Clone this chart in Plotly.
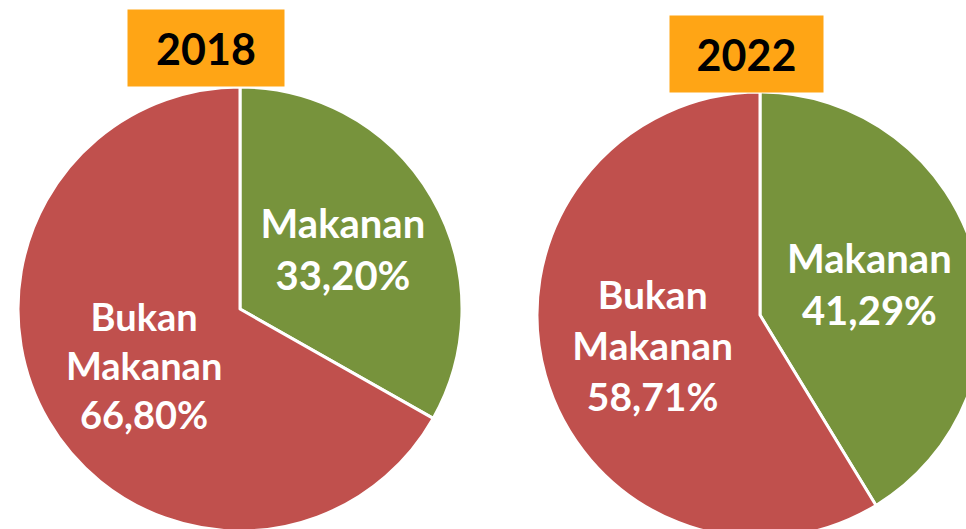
import plotly.graph_objects as go

categories = ["Makanan", "Bukan<br>Makanan"]
values_2018 = [33.20, 66.80]
values_2022 = [41.29, 58.71]
years = ["2018", "2022"]

colors = ["#77933C", "#C0504D"]
# figure is a little larger than the window; the page shows its top-left part
W, H = 990, 545

fig = go.Figure()

common = dict(
    labels=categories,
    sort=False,
    direction="clockwise",
    rotation=0,
    marker=dict(colors=colors, line=dict(color="white", width=3)),
    textinfo="label+percent",
    texttemplate="%{label}<br>%{percent:.2%}",
    textposition="inside",
    insidetextorientation="horizontal",
    hoverinfo="skip",
    showlegend=False,
)

fig.add_trace(go.Pie(values=values_2018,
                     domain=dict(x=[18 / W, 462 / W], y=[1 - 531 / H, 1 - 87 / H]),
                     textfont=dict(family="Lato", size=[40, 38], color="white", weight="bold"),
                     **common))
fig.add_trace(go.Pie(values=values_2022,
                     domain=dict(x=[537 / W, 983 / W], y=[1 - 538 / H, 1 - 92 / H]),
                     textfont=dict(family="Lato", size=[40, 39], color="white", weight="bold"),
                     **common))

box = dict(xref="paper", yref="paper", showarrow=False,
           bgcolor="#FFA515", borderpad=0,
           font=dict(family="Lato", size=43, color="black", weight="bold"),
           xanchor="center", yanchor="middle")
fig.add_annotation(text=years[0], x=206 / W, y=1 - 48 / H, width=156, height=76, **box)
fig.add_annotation(text=years[1], x=746.5 / W, y=1 - 54 / H, width=153, height=76, **box)

fig.update_layout(
    width=W, height=H,
    margin=dict(l=0, r=0, t=0, b=0),
    paper_bgcolor="white",
    plot_bgcolor="white",
    separators=",.",
)

fig.write_html("out.html",
               config={"displayModeBar": False},
               post_script="document.documentElement.style.overflow='hidden';"
                           "document.body.style.margin='0';")
